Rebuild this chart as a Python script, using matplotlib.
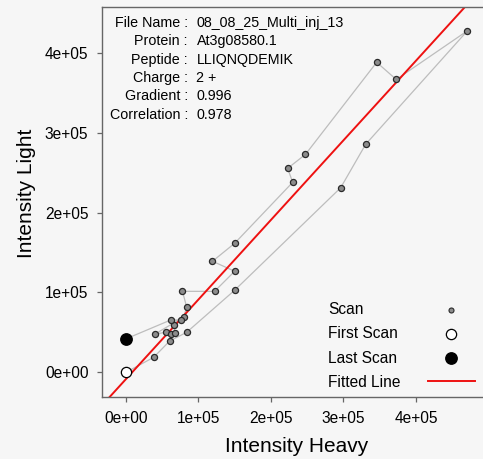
import matplotlib
matplotlib.use("Agg")
import matplotlib.pyplot as plt
import numpy as np

plt.rcParams['font.family'] = ['Liberation Sans', 'DejaVu Sans']

# Scan-by-scan intensities, in elution order
heavy = [0, 38200, 60300, 83700, 149700, 296100, 330600, 471000,
         372800, 345800, 247600, 223000, 229900, 149900, 119300, 149900,
         122100, 77900, 83700, 79600, 40000, 55200, 62300, 67600,
         65800, 75400, 61700, 0]
light = [0, 18800, 39200, 50100, 102600, 231000, 285400, 427500,
         366500, 388000, 272800, 255300, 237800, 161500, 139000, 126500,
         101300, 101400, 81700, 69200, 47900, 50100, 47600, 49600,
         59600, 65500, 65500, 41900]

info_keys = ["File Name", "Protein", "Peptide", "Charge", "Gradient", "Correlation"]
info_vals = ["08_08_25_Multi_inj_13", "At3g08580.1", "LLIQNQDEMIK", "2 +", "0.996", "0.978"]

gradient = 0.996
intercept = -8400

x_ticks = [0, 100000, 200000, 300000, 400000]
x_labels = ["0e+00", "1e+05", "2e+05", "3e+05", "4e+05"]
y_ticks = [0, 100000, 200000, 300000, 400000]
y_labels = ["0e+00", "1e+05", "2e+05", "3e+05", "4e+05"]

W, H = 483, 459
bg = "#f6f6f6"
fig = plt.figure(figsize=(W / 100, H / 100), dpi=100, facecolor=bg)
ax = fig.add_axes([102 / W, 1 - 396.7 / H, 383 / W, 390 / H], facecolor=bg)

ax.set_xlim(-33100, 495200)
ax.set_ylim(-30500, 457600)

# fitted line
xs = np.array([-60000, 600000])
ax.plot(xs, gradient * xs + intercept, color="#ee1111", lw=1.4, zorder=2)

# scan trace
ax.plot(heavy, light, color="#bdbdbd", lw=0.9, zorder=1)
ax.plot(heavy[1:-1], light[1:-1], ls="none", marker="o", ms=4.4,
        mfc="#8c8c8c", mec="#2a2a2a", mew=0.9, zorder=3)
ax.plot(heavy[0], light[0], ls="none", marker="o", ms=7.4,
        mfc="white", mec="black", mew=0.9, zorder=4)
ax.plot(heavy[-1], light[-1], ls="none", marker="o", ms=8.2,
        mfc="black", mec="black", zorder=4)

for s in ["top", "right", "left", "bottom"]:
    ax.spines[s].set_color("#666666")
    ax.spines[s].set_linewidth(1.0)
ax.spines["right"].set_visible(False)

ax.set_xticks(x_ticks)
ax.set_xticklabels(x_labels)
ax.set_yticks(y_ticks)
ax.set_yticklabels(y_labels)
ax.tick_params(axis="both", direction="out", length=3.8, width=0.9,
               color="#666666", labelsize=11.2, labelcolor="black")
ax.tick_params(axis="x", pad=6.5)
ax.tick_params(axis="y", pad=6)

fig.text(296.7 / W, 1 - 446.7 / H, "Intensity Heavy", ha="center", va="center", fontsize=15)
fig.text(26.7 / W, 1 - 193 / H, "Intensity Light", ha="center", va="center",
         rotation=90, fontsize=15)

# peptide information block
for i, (k, v) in enumerate(zip(info_keys, info_vals)):
    y = 1 - (22.7 + 18.45 * i) / H
    fig.text(188 / W, y, k + " :", ha="right", va="center", fontsize=10.3)
    fig.text(196.5 / W, y, v, ha="left", va="center", fontsize=10.3)

# legend
leg_labels = ["Scan", "First Scan", "Last Scan", "Fitted Line"]
leg_y = [310, 334, 358.3, 382.5]
for lab, yy in zip(leg_labels, leg_y):
    fig.text(328.3 / W, 1 - yy / H, lab, ha="left", va="center", fontsize=11.2)
fig.lines.append(plt.Line2D([451 / W], [1 - leg_y[0] / H], ls="none", marker="o", ms=3.6,
                            mfc="#8c8c8c", mec="#2a2a2a", mew=0.8, transform=fig.transFigure))
fig.lines.append(plt.Line2D([451 / W], [1 - leg_y[1] / H], ls="none", marker="o", ms=7.4,
                            mfc="white", mec="black", mew=0.9, transform=fig.transFigure))
fig.lines.append(plt.Line2D([451 / W], [1 - leg_y[2] / H], ls="none", marker="o", ms=8.2,
                            mfc="black", mec="black", transform=fig.transFigure))
fig.lines.append(plt.Line2D([428 / W, 475 / W], [1 - 380.5 / H, 1 - 380.5 / H],
                            color="#ee1111", lw=1.4, transform=fig.transFigure))

fig.savefig("out.png", dpi=100, facecolor=bg)
